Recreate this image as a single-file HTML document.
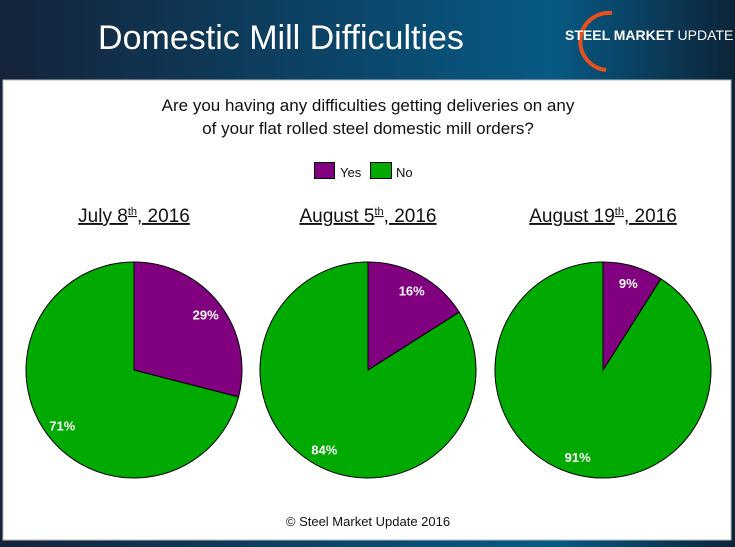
<!DOCTYPE html>
<html><head><meta charset="utf-8"><style>
html,body{margin:0;padding:0;width:735px;height:547px;overflow:hidden;font-family:"Liberation Sans",sans-serif;}
</style></head><body>
<svg width="735" height="547" xmlns="http://www.w3.org/2000/svg">
<defs>
<linearGradient id="bg" x1="0" x2="1" y1="0" y2="0">
<stop offset="0" stop-color="#14233a"/><stop offset="0.75" stop-color="#075a85"/><stop offset="1" stop-color="#0d2438"/>
</linearGradient>
</defs>
<rect x="0" y="0" width="735" height="547" fill="url(#bg)"/>
<text x="281" y="49" font-size="34" fill="#fff" text-anchor="middle" font-family="Liberation Sans, sans-serif">Domestic Mill Difficulties</text>
<g>
<path d="M612 13 A28 28 0 1 0 606 70" fill="none" stroke="#e8501c" stroke-width="4"/>
<text x="565" y="40" font-size="14" fill="#fff" font-weight="bold">STEEL MARKET <tspan font-weight="normal">UPDATE</tspan></text>
</g>
<rect x="3" y="80" width="728" height="460" fill="#fff" stroke="#bbb"/>
<text x="368" y="111" font-size="17" text-anchor="middle" fill="#111">Are you having any difficulties getting deliveries on any</text>
<text x="368" y="134" font-size="17" text-anchor="middle" fill="#111">of your flat rolled steel domestic mill orders?</text>
<g>
<rect x="314.5" y="162.5" width="20" height="16" fill="#800080" stroke="#000"/>
<text x="340" y="177" font-size="13" fill="#111">Yes</text>
<rect x="370.5" y="162.5" width="21" height="16" fill="#00aa00" stroke="#000"/>
<text x="396" y="177" font-size="13" fill="#111">No</text>
</g>
<g id="pies"></g>
<text x="368" y="526" font-size="13" text-anchor="middle" fill="#111">© Steel Market Update 2016</text>
</svg>
<script>
const dates = ["July 8", "August 5", "August 19"];
const yesValues = [29, 16, 9];
const noValues = [71, 84, 91];
const centersX = [134, 368, 603];
const cy = 370, r = 108;
const g = document.getElementById('pies');
const NS = "http://www.w3.org/2000/svg";
function pt(cx, frac, rad){ const a = frac*2*Math.PI - Math.PI/2; return [cx+rad*Math.cos(a), cy+rad*Math.sin(a)]; }
function slice(cx, f0, f1, color){
  const p0 = pt(cx,f0,r), p1 = pt(cx,f1,r);
  const large = (f1-f0) > 0.5 ? 1 : 0;
  const p = document.createElementNS(NS,'path');
  p.setAttribute('d', `M${cx},${cy} L${p0[0]},${p0[1]} A${r},${r} 0 ${large} 1 ${p1[0]},${p1[1]} Z`);
  p.setAttribute('fill', color); p.setAttribute('stroke', '#000'); p.setAttribute('stroke-width','1');
  return p;
}
function label(cx, fmid, txt){
  const q = pt(cx, fmid, r*0.84);
  const t = document.createElementNS(NS,'text');
  t.setAttribute('x', q[0]); t.setAttribute('y', q[1]+5);
  t.setAttribute('text-anchor','middle'); t.setAttribute('font-size','13'); t.setAttribute('font-weight','bold'); t.setAttribute('fill','#fff');
  t.textContent = txt; return t;
}
dates.forEach((d,i)=>{
  const cx = centersX[i];
  const tot = yesValues[i] + noValues[i];
  const fy = yesValues[i]/tot;
  const title = document.createElementNS(NS,'text');
  title.setAttribute('x', cx); title.setAttribute('y', 222);
  title.setAttribute('text-anchor','middle'); title.setAttribute('font-size','19'); title.setAttribute('fill','#111');
  title.setAttribute('text-decoration','underline');
  title.innerHTML = d + '<tspan font-size="11" dy="-7">th</tspan><tspan dy="7">, 2016</tspan>';
  
  
  g.appendChild(title);
  const sy = slice(cx, 0, fy, '#800080');
  
  
  const sn = slice(cx, fy, 1, '#00aa00');
  
  
  g.appendChild(sn); g.appendChild(sy);
  const ly = label(cx, fy/2, yesValues[i]+'%');
  
  
  const ln = label(cx, fy + (1-fy)/2, noValues[i]+'%');
  
  
  g.appendChild(ly); g.appendChild(ln);
});
</script>
</body></html>
